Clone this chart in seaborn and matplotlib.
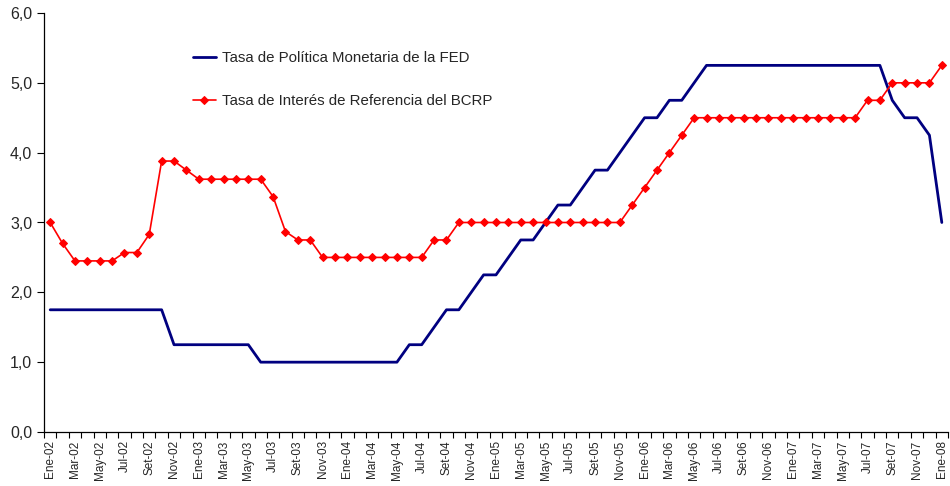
import matplotlib
matplotlib.use("Agg")
import matplotlib.pyplot as plt
from matplotlib.ticker import FixedLocator, FuncFormatter
import seaborn as sns
import pandas as pd
import numpy as np

# meses Ene-02 .. Ene-08
meses = ["Ene", "Feb", "Mar", "Abr", "May", "Jun", "Jul", "Ago", "Set", "Oct", "Nov", "Dic"]
anios = ["02", "03", "04", "05", "06", "07", "08"]
etiquetas = [f"{m}-{a}" for a in anios for m in meses][:73]

# Tasa FED
fed = [1.75, 1.75, 1.75, 1.75, 1.75, 1.75, 1.75, 1.75, 1.75, 1.75,
       1.25, 1.25, 1.25, 1.25, 1.25, 1.25, 1.25,
       1.00, 1.00, 1.00, 1.00, 1.00, 1.00, 1.00, 1.00, 1.00, 1.00, 1.00, 1.00,
       1.25, 1.25, 1.50, 1.75, 1.75, 2.00, 2.25, 2.25, 2.50, 2.75, 2.75,
       3.00, 3.25, 3.25, 3.50, 3.75, 3.75, 4.00, 4.25, 4.50, 4.50, 4.75, 4.75,
       5.00, 5.25, 5.25, 5.25, 5.25, 5.25, 5.25, 5.25, 5.25, 5.25, 5.25, 5.25,
       5.25, 5.25, 5.25, 5.25, 4.75, 4.50, 4.50, 4.25, 3.00]

# Tasa BCRP
bcrp = [3.00, 2.70, 2.45, 2.45, 2.45, 2.45, 2.57, 2.57, 2.83, 3.88, 3.88, 3.75,
        3.62, 3.62, 3.62, 3.62, 3.62, 3.62, 3.37, 2.87, 2.75, 2.75,
        2.50, 2.50, 2.50, 2.50, 2.50, 2.50, 2.50, 2.50, 2.50, 2.75, 2.75,
        3.00, 3.00, 3.00, 3.00, 3.00, 3.00, 3.00, 3.00, 3.00, 3.00, 3.00, 3.00,
        3.00, 3.00, 3.25, 3.50, 3.75, 4.00, 4.25,
        4.50, 4.50, 4.50, 4.50, 4.50, 4.50, 4.50, 4.50, 4.50, 4.50, 4.50, 4.50,
        4.50, 4.50, 4.75, 4.75, 5.00, 5.00, 5.00, 5.00, 5.25]

df = pd.DataFrame({"pos": np.arange(len(etiquetas)), "mes": etiquetas,
                   "fed": fed, "bcrp": bcrp})

sns.set_style("white")
plt.rcParams["font.family"] = ["Liberation Sans", "DejaVu Sans"]

fig = plt.figure(figsize=(9.5, 4.86), dpi=100)
ax = fig.add_axes([44 / 950, 54 / 486, 904 / 950, 419 / 486])

sns.lineplot(data=df, x="pos", y="fed", ax=ax, color="#000080", linewidth=2.0,
             label="Tasa de Política Monetaria de la FED")
sns.lineplot(data=df, x="pos", y="bcrp", ax=ax, color="#ff0000", linewidth=1.2,
             marker="D", markersize=4.5, markeredgecolor="#ff0000",
             label="Tasa de Interés de Referencia del BCRP")

ax.set_xlim(-0.5, len(etiquetas) - 0.5)
ax.set_ylim(0, 6)
ax.set_yticks(np.arange(0, 6.5, 1.0))
ax.yaxis.set_major_formatter(FuncFormatter(lambda v, p: f"{v:.1f}".replace(".", ",")))

ax.set_xticks(df["pos"][::2])
ax.set_xticklabels(df["mes"][::2], rotation=90, fontsize=8.5)
ax.xaxis.set_minor_locator(FixedLocator(np.arange(-0.5, len(etiquetas), 1)))
ax.tick_params(axis="x", which="major", length=0, pad=6)
ax.tick_params(axis="x", which="minor", length=4, width=0.8, color="black", direction="out", bottom=True)
ax.tick_params(axis="y", length=5, width=0.8, color="black", direction="out", left=True, labelsize=11.5)

for s in ["top", "right"]:
    ax.spines[s].set_visible(False)
for s in ["left", "bottom"]:
    ax.spines[s].set_color("black")
    ax.spines[s].set_linewidth(0.9)

ax.set_xlabel("")
ax.set_ylabel("")

ax.legend(loc="upper left", bbox_to_anchor=(193 / 950, 1 - 51 / 486),
          bbox_transform=fig.transFigure, frameon=False, fontsize=10.8,
          handlelength=1.5, handletextpad=0.45, labelspacing=1.95,
          borderpad=0, borderaxespad=0)

fig.savefig("out.png", dpi=100)
